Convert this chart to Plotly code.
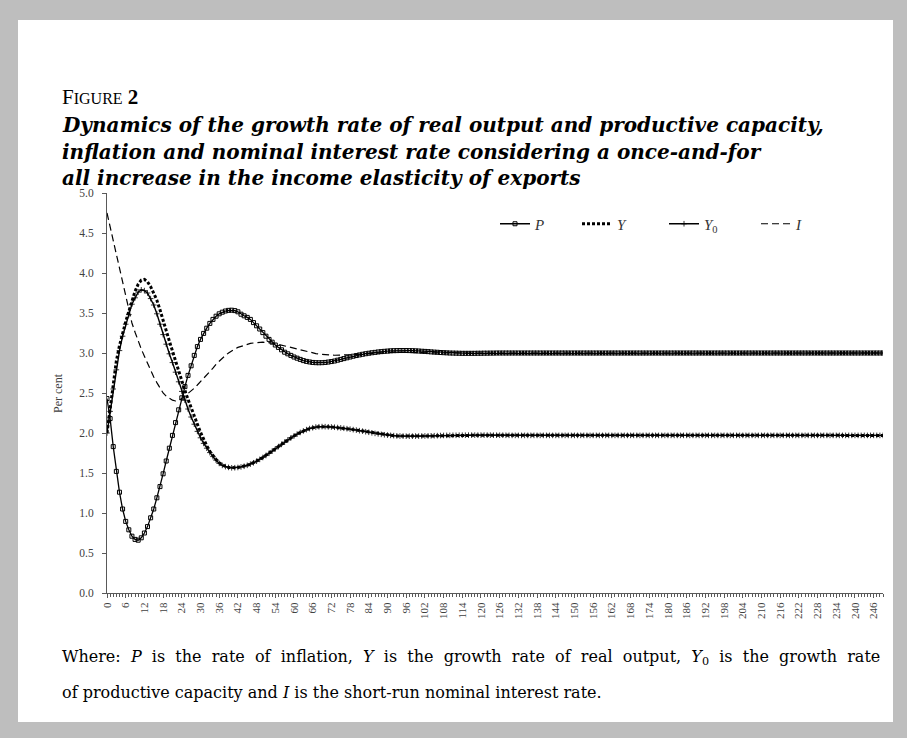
import plotly.graph_objects as go

# Time periods
t = list(range(250))

# Inflation rate P (per cent)
P = [
    2.43, 2.18, 1.83, 1.52, 1.26, 1.05, 0.895, 0.79, 0.71, 0.67,
    0.66, 0.69, 0.75, 0.83, 0.94, 1.05, 1.19, 1.33, 1.49, 1.65,
    1.81, 1.97, 2.13, 2.29, 2.44, 2.58, 2.72, 2.84, 2.97, 3.08,
    3.17, 3.245, 3.31, 3.37, 3.42, 3.46, 3.49, 3.51, 3.525, 3.533,
    3.535, 3.53, 3.515, 3.485, 3.465, 3.445, 3.42, 3.38, 3.34, 3.30,
    3.255, 3.21, 3.17, 3.135, 3.10, 3.07, 3.04, 3.01, 2.99, 2.97,
    2.95, 2.935, 2.92, 2.905, 2.895, 2.888, 2.882, 2.879, 2.878, 2.879,
    2.882, 2.887, 2.893, 2.90, 2.91, 2.92, 2.93, 2.94, 2.95, 2.96,
    2.968, 2.976, 2.984, 2.991, 2.997, 3.003, 3.008, 3.013, 3.017, 3.021,
    3.024, 3.027, 3.029, 3.03, 3.031, 3.031, 3.031, 3.03, 3.029, 3.027,
    3.025, 3.022, 3.02, 3.017, 3.014, 3.011, 3.009, 3.006, 3.004, 3.002,
    3.0, 2.999, 2.998, 2.997, 2.996, 2.996, 2.996, 2.996, 2.996, 2.997,
    2.997, 2.998, 2.998, 2.999, 2.999, 3.0, 3.0, 3.0, 3.0, 3.0,
    3.0, 3.0, 3.0, 3.0, 3.0, 3.0, 3.0, 3.0, 3.0, 3.0,
    3.0, 3.0, 3.0, 3.0, 3.0, 3.0, 3.0, 3.0, 3.0, 3.0,
    3.0, 3.0, 3.0, 3.0, 3.0, 3.0, 3.0, 3.0, 3.0, 3.0,
    3.0, 3.0, 3.0, 3.0, 3.0, 3.0, 3.0, 3.0, 3.0, 3.0,
    3.0, 3.0, 3.0, 3.0, 3.0, 3.0, 3.0, 3.0, 3.0, 3.0,
    3.0, 3.0, 3.0, 3.0, 3.0, 3.0, 3.0, 3.0, 3.0, 3.0,
    3.0, 3.0, 3.0, 3.0, 3.0, 3.0, 3.0, 3.0, 3.0, 3.0,
    3.0, 3.0, 3.0, 3.0, 3.0, 3.0, 3.0, 3.0, 3.0, 3.0,
    3.0, 3.0, 3.0, 3.0, 3.0, 3.0, 3.0, 3.0, 3.0, 3.0,
    3.0, 3.0, 3.0, 3.0, 3.0, 3.0, 3.0, 3.0, 3.0, 3.0,
    3.0, 3.0, 3.0, 3.0, 3.0, 3.0, 3.0, 3.0, 3.0, 3.0,
    3.0, 3.0, 3.0, 3.0, 3.0, 3.0, 3.0, 3.0, 3.0, 3.0,
]

# Growth rate of real output Y (per cent)
Y = [
    2.00, 2.30, 2.63, 2.90, 3.09, 3.25, 3.39, 3.52, 3.65, 3.77,
    3.86, 3.91, 3.92, 3.89, 3.83, 3.75, 3.66, 3.54, 3.42, 3.28,
    3.15, 3.02, 2.89, 2.76, 2.64, 2.53, 2.42, 2.31, 2.21, 2.11,
    2.01, 1.92, 1.84, 1.77, 1.715, 1.668, 1.628, 1.60, 1.582, 1.57,
    1.565, 1.566, 1.569, 1.576, 1.584, 1.596, 1.611, 1.628, 1.648, 1.670,
    1.694, 1.719, 1.746, 1.773, 1.801, 1.830, 1.858, 1.886, 1.913, 1.939,
    1.963, 1.986, 2.007, 2.026, 2.042, 2.055, 2.066, 2.074, 2.078, 2.080,
    2.079, 2.077, 2.075, 2.072, 2.068, 2.064, 2.059, 2.054, 2.048, 2.042,
    2.036, 2.029, 2.023, 2.016, 2.009, 2.002, 1.995, 1.989, 1.983, 1.978,
    1.974, 1.970, 1.967, 1.964, 1.962, 1.961, 1.960, 1.960, 1.960, 1.961,
    1.961, 1.962, 1.963, 1.964, 1.965, 1.966, 1.967, 1.968, 1.969, 1.970,
    1.970, 1.971, 1.971, 1.972, 1.972, 1.972, 1.973, 1.973, 1.973, 1.973,
    1.973, 1.973, 1.973, 1.973, 1.972, 1.972, 1.972, 1.972, 1.971, 1.971,
    1.97, 1.97, 1.97, 1.97, 1.97, 1.97, 1.97, 1.97, 1.97, 1.97,
    1.97, 1.97, 1.97, 1.97, 1.97, 1.97, 1.97, 1.97, 1.97, 1.97,
    1.97, 1.97, 1.97, 1.97, 1.97, 1.97, 1.97, 1.97, 1.97, 1.97,
    1.97, 1.97, 1.97, 1.97, 1.97, 1.97, 1.97, 1.97, 1.97, 1.97,
    1.97, 1.97, 1.97, 1.97, 1.97, 1.97, 1.97, 1.97, 1.97, 1.97,
    1.97, 1.97, 1.97, 1.97, 1.97, 1.97, 1.97, 1.97, 1.97, 1.97,
    1.97, 1.97, 1.97, 1.97, 1.97, 1.97, 1.97, 1.97, 1.97, 1.97,
    1.97, 1.97, 1.97, 1.97, 1.97, 1.97, 1.97, 1.97, 1.97, 1.97,
    1.97, 1.97, 1.97, 1.97, 1.97, 1.97, 1.97, 1.97, 1.97, 1.97,
    1.97, 1.97, 1.97, 1.97, 1.97, 1.97, 1.97, 1.97, 1.97, 1.97,
    1.97, 1.97, 1.97, 1.97, 1.97, 1.97, 1.97, 1.97, 1.97, 1.97,
    1.97, 1.97, 1.97, 1.97, 1.97, 1.97, 1.97, 1.97, 1.97, 1.97,
]

# Growth rate of productive capacity Y0 (per cent)
Y0 = [
    2.00, 2.27, 2.55, 2.79, 3.03, 3.21, 3.36, 3.48, 3.61, 3.69,
    3.76, 3.79, 3.78, 3.75, 3.68, 3.60, 3.49, 3.36, 3.23, 3.11,
    2.99, 2.88, 2.76, 2.64, 2.52, 2.41, 2.30, 2.20, 2.11, 2.02,
    1.94, 1.87, 1.81, 1.755, 1.705, 1.66, 1.62, 1.595, 1.58, 1.57,
    1.565, 1.566, 1.569, 1.576, 1.584, 1.596, 1.611, 1.628, 1.648, 1.670,
    1.694, 1.719, 1.746, 1.773, 1.801, 1.830, 1.858, 1.886, 1.913, 1.939,
    1.963, 1.986, 2.007, 2.026, 2.042, 2.055, 2.066, 2.074, 2.078, 2.080,
    2.079, 2.077, 2.075, 2.072, 2.068, 2.064, 2.059, 2.054, 2.048, 2.042,
    2.036, 2.029, 2.023, 2.016, 2.009, 2.002, 1.995, 1.989, 1.983, 1.978,
    1.974, 1.970, 1.967, 1.964, 1.962, 1.961, 1.960, 1.960, 1.960, 1.961,
    1.961, 1.962, 1.963, 1.964, 1.965, 1.966, 1.967, 1.968, 1.969, 1.970,
    1.970, 1.971, 1.971, 1.972, 1.972, 1.972, 1.973, 1.973, 1.973, 1.973,
    1.973, 1.973, 1.973, 1.973, 1.972, 1.972, 1.972, 1.972, 1.971, 1.971,
    1.97, 1.97, 1.97, 1.97, 1.97, 1.97, 1.97, 1.97, 1.97, 1.97,
    1.97, 1.97, 1.97, 1.97, 1.97, 1.97, 1.97, 1.97, 1.97, 1.97,
    1.97, 1.97, 1.97, 1.97, 1.97, 1.97, 1.97, 1.97, 1.97, 1.97,
    1.97, 1.97, 1.97, 1.97, 1.97, 1.97, 1.97, 1.97, 1.97, 1.97,
    1.97, 1.97, 1.97, 1.97, 1.97, 1.97, 1.97, 1.97, 1.97, 1.97,
    1.97, 1.97, 1.97, 1.97, 1.97, 1.97, 1.97, 1.97, 1.97, 1.97,
    1.97, 1.97, 1.97, 1.97, 1.97, 1.97, 1.97, 1.97, 1.97, 1.97,
    1.97, 1.97, 1.97, 1.97, 1.97, 1.97, 1.97, 1.97, 1.97, 1.97,
    1.97, 1.97, 1.97, 1.97, 1.97, 1.97, 1.97, 1.97, 1.97, 1.97,
    1.97, 1.97, 1.97, 1.97, 1.97, 1.97, 1.97, 1.97, 1.97, 1.97,
    1.97, 1.97, 1.97, 1.97, 1.97, 1.97, 1.97, 1.97, 1.97, 1.97,
    1.97, 1.97, 1.97, 1.97, 1.97, 1.97, 1.97, 1.97, 1.97, 1.97,
]

# Short-run nominal interest rate I (per cent)
I = [
    4.75, 4.58, 4.41, 4.24, 4.06, 3.88, 3.70, 3.53, 3.375, 3.26,
    3.15, 3.05, 2.96, 2.87, 2.78, 2.70, 2.63, 2.56, 2.50, 2.46,
    2.43, 2.41, 2.40, 2.41, 2.43, 2.46, 2.49, 2.52, 2.56, 2.60,
    2.64, 2.68, 2.72, 2.77, 2.81, 2.86, 2.90, 2.94, 2.97, 3.00,
    3.03, 3.05, 3.07, 3.085, 3.10, 3.11, 3.12, 3.125, 3.13, 3.133,
    3.135, 3.133, 3.13, 3.125, 3.117, 3.108, 3.098, 3.088, 3.077, 3.066,
    3.055, 3.044, 3.034, 3.025, 3.016, 3.008, 3.0, 2.993, 2.987, 2.982,
    2.978, 2.975, 2.973, 2.972, 2.972, 2.972, 2.973, 2.975, 2.977, 2.979,
    2.982, 2.985, 2.988, 2.991, 2.994, 2.997, 3.0, 3.003, 3.005, 3.007,
    3.008, 3.009, 3.01, 3.01, 3.01, 3.01, 3.009, 3.008, 3.007, 3.006,
    3.005, 3.004, 3.003, 3.002, 3.002, 3.001, 3.001, 3.0, 3.0, 3.0,
    3.0, 3.0, 3.0, 3.0, 3.0, 3.0, 3.0, 3.0, 3.0, 3.0,
    3.0, 3.0, 3.0, 3.0, 3.0, 3.0, 3.0, 3.0, 3.0, 3.0,
    3.0, 3.0, 3.0, 3.0, 3.0, 3.0, 3.0, 3.0, 3.0, 3.0,
    3.0, 3.0, 3.0, 3.0, 3.0, 3.0, 3.0, 3.0, 3.0, 3.0,
    3.0, 3.0, 3.0, 3.0, 3.0, 3.0, 3.0, 3.0, 3.0, 3.0,
    3.0, 3.0, 3.0, 3.0, 3.0, 3.0, 3.0, 3.0, 3.0, 3.0,
    3.0, 3.0, 3.0, 3.0, 3.0, 3.0, 3.0, 3.0, 3.0, 3.0,
    3.0, 3.0, 3.0, 3.0, 3.0, 3.0, 3.0, 3.0, 3.0, 3.0,
    3.0, 3.0, 3.0, 3.0, 3.0, 3.0, 3.0, 3.0, 3.0, 3.0,
    3.0, 3.0, 3.0, 3.0, 3.0, 3.0, 3.0, 3.0, 3.0, 3.0,
    3.0, 3.0, 3.0, 3.0, 3.0, 3.0, 3.0, 3.0, 3.0, 3.0,
    3.0, 3.0, 3.0, 3.0, 3.0, 3.0, 3.0, 3.0, 3.0, 3.0,
    3.0, 3.0, 3.0, 3.0, 3.0, 3.0, 3.0, 3.0, 3.0, 3.0,
    3.0, 3.0, 3.0, 3.0, 3.0, 3.0, 3.0, 3.0, 3.0, 3.0,
]

assert len(P) == len(Y) == len(Y0) == len(I) == len(t)

X_TICK_STEP = 6
Y_TICK_STEP = 0.5

SERIF = "Liberation Serif"
WIDE_SERIF = "DejaVu Serif"
AXIS_GREY = "#595959"
TEXT_GREY = "#404040"

W, H = 907, 738
# plotting-area pixel box
L, R, T, B = 107, 883, 193, 593


def px(x):
    """pixel x -> paper x"""
    return (x - L) / (R - L)


def py(y):
    """pixel y -> paper y"""
    return (B - y) / (B - T)


fig = go.Figure()

fig.add_trace(go.Scatter(
    x=t, y=P, name="<i>P</i>", mode="lines+markers", legend="legend",
    line=dict(color="black", width=1.3),
    marker=dict(symbol="square-open", size=4, color="black", line=dict(width=1)),
))
fig.add_trace(go.Scatter(
    x=t, y=Y, name="<i>Y</i>", mode="lines", legend="legend2",
    line=dict(color="black", width=3, dash="3px,2px"),
))
fig.add_trace(go.Scatter(
    x=t, y=Y0, name="<i>Y</i><sub>0</sub>", mode="lines+markers", legend="legend3",
    line=dict(color="black", width=1.4),
    marker=dict(symbol="cross-thin-open", size=4, color="black",
                line=dict(width=0.8, color="black")),
))
fig.add_trace(go.Scatter(
    x=t, y=I, name="<i>I</i>", mode="lines", legend="legend4",
    line=dict(color="black", width=1.2, dash="7px,4px"),
))


def legend_box(x_pix):
    return dict(
        x=px(x_pix), y=py(224), xanchor="left", yanchor="middle",
        orientation="h", bgcolor="rgba(0,0,0,0)", itemwidth=30,
        font=dict(family=SERIF, size=15, color="#333333"),
    )


fig.update_layout(
    width=W, height=H,
    margin=dict(l=L, r=W - R, t=T, b=H - B, pad=0),
    paper_bgcolor="#bebebe",
    plot_bgcolor="white",
    font=dict(family=SERIF, color=TEXT_GREY),
    showlegend=True,
    legend=legend_box(495),
    legend2=legend_box(577),
    legend3=legend_box(664),
    legend4=legend_box(756),
    shapes=[dict(
        type="rect", xref="paper", yref="paper", layer="below",
        x0=px(18), x1=px(893), y0=py(722), y1=py(20),
        fillcolor="white", line_width=0,
    )],
)

fig.update_xaxes(
    range=[0, len(t) - 1], tick0=0, dtick=X_TICK_STEP, tickangle=-90,
    showline=True, linecolor=AXIS_GREY, linewidth=1,
    ticks="outside", ticklen=4, tickcolor=AXIS_GREY,
    minor=dict(ticks="outside", dtick=1, tick0=0, ticklen=3, tickcolor=AXIS_GREY),
    showgrid=False, zeroline=False,
    tickfont=dict(family=SERIF, size=11, color=TEXT_GREY),
)
fig.update_yaxes(
    range=[0, 5], tick0=0, dtick=Y_TICK_STEP, tickformat=".1f",
    showline=True, linecolor=AXIS_GREY, linewidth=1,
    ticks="outside", ticklen=4, tickcolor=AXIS_GREY,
    ticklabelstandoff=6,
    showgrid=False, zeroline=False,
    tickfont=dict(family=SERIF, size=11.5, color=TEXT_GREY),
)

# y-axis title
fig.add_annotation(
    text="Per cent", textangle=-90, xref="paper", yref="paper",
    x=px(58), y=py(393), showarrow=False, xanchor="center", yanchor="middle",
    font=dict(family=SERIF, size=12, color=TEXT_GREY),
)

# figure heading
fig.add_annotation(
    text="F<span style='font-size:16px'>IGURE</span> <b>2</b>",
    xref="paper", yref="paper", x=px(60), y=py(97),
    showarrow=False, xanchor="left", yanchor="middle",
    font=dict(family=SERIF, size=21, color="black"),
)
TITLE_LINES = [
    "Dynamics of the growth rate of real output and productive capacity,",
    "inflation and nominal interest rate considering a once-and-for",
    "all increase in the income elasticity of exports",
]
for k, line in enumerate(TITLE_LINES):
    fig.add_annotation(
        text="<b><i>" + line + "</i></b>",
        xref="paper", yref="paper", x=px(60), y=py(125 + 26.5 * k),
        showarrow=False, xanchor="left", yanchor="middle",
        font=dict(family=WIDE_SERIF, size=20, color="black"),
    )

# note under the chart; the first line is justified to the full text width
NBSP = "\u00a0"
CAPTION_LINES = [
    ("Where: <i>P</i> is the rate of inflation, <i>Y</i> is the growth rate of real output, "
     "<i>Y</i><sub>0</sub> is the growth rate").replace(" ", " " + NBSP),
    "of productive capacity and <i>I</i> is the short-run nominal interest rate.",
]
for k, line in enumerate(CAPTION_LINES):
    fig.add_annotation(
        text=line, xref="paper", yref="paper", x=px(60), y=py(657 + 35 * k),
        showarrow=False, xanchor="left", yanchor="middle",
        font=dict(family=WIDE_SERIF, size=16, color="black"),
    )

fig.write_html("out.html")
